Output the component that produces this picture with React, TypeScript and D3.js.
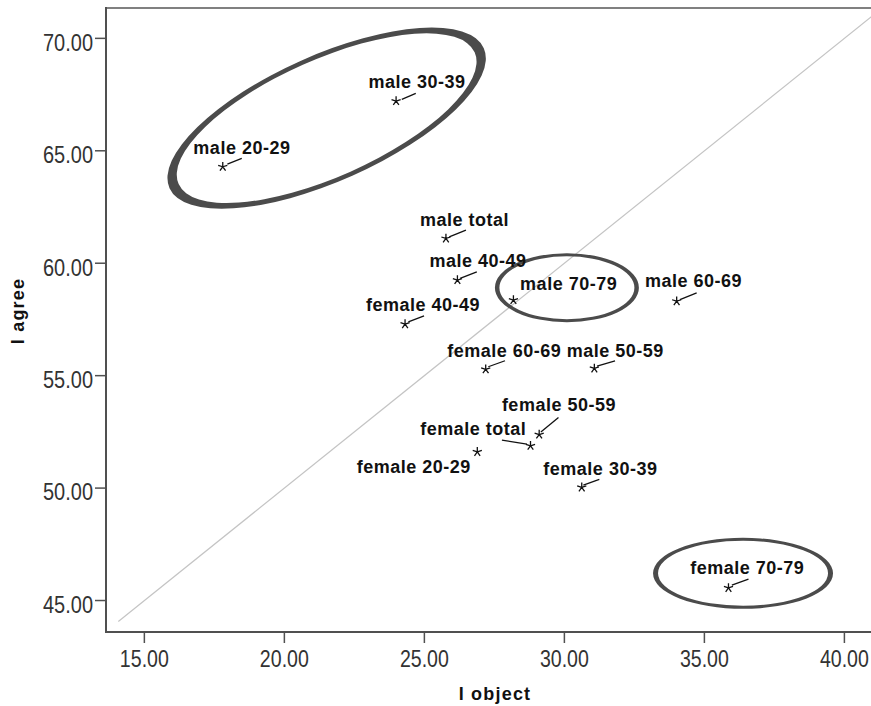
import React from "react";
import * as d3 from "d3";

// ---- data ----
const groups = [
  "male 20-29", "male 30-39", "male total", "male 40-49", "male 70-79",
  "female 40-49", "female 60-69", "male 50-59", "male 60-69",
  "female 50-59", "female total", "female 20-29", "female 30-39", "female 70-79",
];
const objectValues = [17.8, 23.99, 25.77, 26.18, 28.18, 24.31, 27.19, 31.07, 34.01, 29.1, 28.79, 26.89, 30.62, 35.86];
const agreeValues = [64.29, 67.21, 61.1, 59.25, 58.36, 57.29, 55.28, 55.32, 58.31, 52.38, 51.88, 51.61, 50.03, 45.56];
const xTicks = [15, 20, 25, 30, 35, 40];
const yTicks = [45, 50, 55, 60, 65, 70];
const refLineX = [14.07, 41.2];
const refIntercept = 30;

// annotation ellipses: centres in data units
const ellipseCentersX = [21.51, 30.09, 36.38];
const ellipseCentersY = [66.45, 58.91, 46.21];

// ---- layout (pixels) ----
const W = 871, H = 706;
const labelLayout: { tx: number; ty: number; line?: [number, number, number, number] }[] = [
  { tx: -29.4, ty: -12.7, line: [4.6, -2.7, 19, -8.4] },
  { tx: -27.7, ty: -12.7, line: [5.7, -1.7, 19.7, -7.7] },
  { tx: -26, ty: -12.3, line: [3.3, -1.6, 20, -8.3] },
  { tx: -28, ty: -13.3, line: [2.7, -1.7, 19.4, -8.3] },
  { tx: 6.7, ty: -10 },
  { tx: -39, ty: -13, line: [3.3, -2.3, 19, -8.3] },
  { tx: -38.4, ty: -12.6, line: [2.6, -2.6, 19.3, -8.6] },
  { tx: -27.6, ty: -11.6, line: [2.7, -2.3, 20.7, -7.6] },
  { tx: -31.7, ty: -14.3, line: [3.3, -1.7, 20, -8.3] },
  { tx: -37.3, ty: -23.6, line: [1.7, -2.6, 19.3, -17] },
  { tx: -110.3, ty: -10.7, line: [-3.6, -1.7, -28.6, -5.7] },
  { tx: -120.6, ty: 21.6 },
  { tx: -38.4, ty: -12.3, line: [1.6, -2.3, 17.6, -8] },
  { tx: -38.3, ty: -14.4, line: [3.4, -2.7, 20, -8.7] },
];
const ellipseShapes = [
  { outer: [172, 63], inner: [162, 58.5], rot: -24 },
  { outer: [72, 34.5], inner: [67.5, 31.5], rot: 0 },
  { outer: [90, 35.5], inner: [85, 32.5], rot: 0 },
];

const x = d3.scaleLinear().domain([13.63, 40.95]).range([106, 871]);
const y = d3.scaleLinear().domain([43.6, 71.35]).range([632, 8]);
const fmt = d3.format(".2f");

function ellipsePath(a: number, b: number) {
  return `M${-a},0 A${a},${b} 0 1,0 ${a},0 A${a},${b} 0 1,0 ${-a},0 Z`;
}

function starPath(r: number) {
  let d = "";
  for (let i = 0; i < 5; i++) {
    const ang = -Math.PI / 2 + (i * 2 * Math.PI) / 5;
    d += `M0,0L${(r * Math.cos(ang)).toFixed(2)},${(r * Math.sin(ang)).toFixed(2)}`;
  }
  return d;
}

export default function App() {
  const labelFont = "'Liberation Sans', Arial, sans-serif";
  const refLine = d3
    .line<number>()
    .x((d) => x(d))
    .y((d) => y(d + refIntercept))(refLineX);
  return (
    <svg
      width={W}
      height={H}
      style={{ position: "absolute", left: 0, top: 0, background: "#fff" }}
      fontFamily={labelFont}
    >
      <defs>
        <clipPath id="plot">
          <rect x={106} y={8} width={W - 106} height={632 - 8} />
        </clipPath>
      </defs>
      <rect width={W} height={H} fill="#fff" />
      {/* reference line */}
      <path d={refLine || ""} stroke="#c4c4c4" strokeWidth={1.2} fill="none" clipPath="url(#plot)" />

      {/* annotation ellipses */}
      {ellipseShapes.map((e, i) => (
        <path
          key={"el" + i}
          transform={`translate(${x(ellipseCentersX[i])},${y(ellipseCentersY[i])}) rotate(${e.rot})`}
          d={ellipsePath(e.outer[0], e.outer[1]) + ellipsePath(e.inner[0], e.inner[1])}
          fill="#4b4b4b"
          fillRule="evenodd"
        />
      ))}

      {/* frame */}
      <line x1={106} x2={W} y1={8} y2={8} stroke="#808080" strokeWidth={2} />
      <line x1={106} x2={106} y1={7} y2={633} stroke="#505050" strokeWidth={2} />
      <line x1={105} x2={W} y1={632} y2={632} stroke="#505050" strokeWidth={2} />

      {/* y ticks */}
      {yTicks.map((t) => (
        <g key={"y" + t}>
          <line x1={95} x2={106} y1={y(t)} y2={y(t)} stroke="#505050" strokeWidth={1.5} />
          <text x={43} y={y(t) + 12.4} fontSize={24} fill="#333" textLength={50} lengthAdjust="spacingAndGlyphs">
            {fmt(t)}
          </text>
        </g>
      ))}
      {/* x ticks */}
      {xTicks.map((t) => (
        <g key={"x" + t}>
          <line x1={x(t)} x2={x(t)} y1={632} y2={643} stroke="#505050" strokeWidth={1.5} />
          <text x={x(t) - 24.5} y={666.7} fontSize={24} fill="#333" textLength={49} lengthAdjust="spacingAndGlyphs">
            {fmt(t)}
          </text>
        </g>
      ))}

      {/* axis titles */}
      <text x={495} y={700} textAnchor="middle" fontSize={18} fontWeight="bold" letterSpacing={1.2} fill="#111">
        I object
      </text>
      <text
        transform={`translate(24,311) rotate(-90)`}
        textAnchor="middle"
        fontSize={18}
        fontWeight="bold"
        letterSpacing={1.2}
        fill="#111"
      >
        I agree
      </text>

      {/* points, labels, leader lines */}
      {groups.map((g, i) => {
        const px = x(objectValues[i]);
        const py = y(agreeValues[i]);
        const l = labelLayout[i];
        return (
          <g key={g}>
            <path transform={`translate(${px},${py})`} d={starPath(4.8)} stroke="#111" strokeWidth={1.3} fill="none" />
            {l.line && (
              <line
                x1={px + l.line[0]}
                y1={py + l.line[1]}
                x2={px + l.line[2]}
                y2={py + l.line[3]}
                stroke="#111"
                strokeWidth={1.3}
              />
            )}
            <text x={px + l.tx} y={py + l.ty} fontSize={18} fontWeight="bold" letterSpacing={0.5} fill="#111">
              {g}
            </text>
          </g>
        );
      })}
    </svg>
  );
}
